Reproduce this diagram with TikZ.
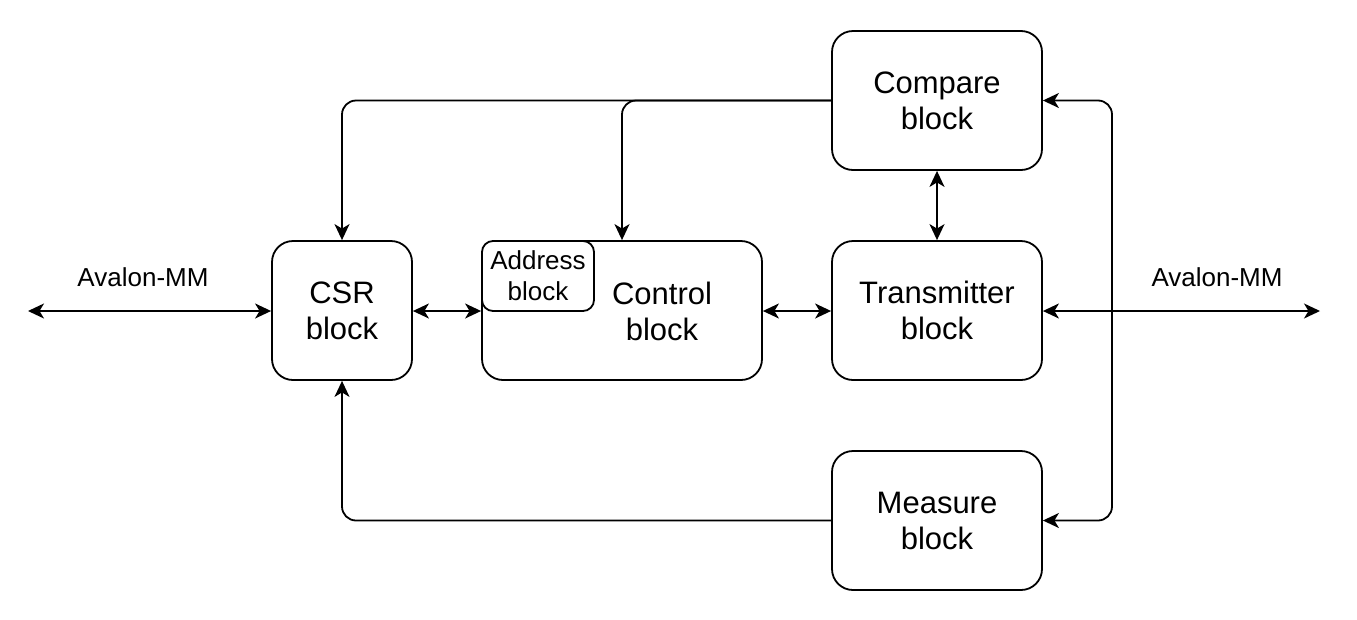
\documentclass[tikz,border=0pt]{standalone}
\usepackage{fontspec}
\setmainfont{Liberation Sans}
\usetikzlibrary{arrows.meta}
\begin{document}
\begin{tikzpicture}[x=1pt,y=-1pt,
  blk/.style={draw, line width=1.8pt, rounded corners=21pt, align=center, inner sep=0pt,
    font=\fontsize{31}{36}\selectfont},
  sub/.style={draw, fill=white, line width=1.8pt, rounded corners=11pt, align=center, inner sep=0pt,
    font=\fontsize{26}{31}\selectfont},
  lbl/.style={font=\fontsize{26}{31}\selectfont, inner sep=0pt},
  conn/.style={line width=1.8pt, rounded corners=14pt},
  tip/.style={-{Stealth[length=16pt,width=15pt,inset=4.5pt]}},
  dtip/.style={{Stealth[length=16pt,width=15pt,inset=4.5pt]}-{Stealth[length=16pt,width=15pt,inset=4.5pt]}}
]
\useasboundingbox (0,0) rectangle (1357,619);
\node[blk, minimum width=140pt, minimum height=139pt] (csr) at (342,310.5) {CSR\\block};
\node[blk, minimum width=280pt, minimum height=139pt] (ctrl) at (622,310.5) {};
\node[font=\fontsize{31}{36}\selectfont, align=center, inner sep=0pt] (ctrltxt) at (662,311) {Control\\block};
\node[sub, minimum width=112pt, minimum height=70pt] (addr) at (538,276) {Address\\block};
\node[blk, minimum width=210pt, minimum height=139pt] (trans) at (937,310.5) {Transmitter\\block};
\node[blk, minimum width=210pt, minimum height=139pt] (comp) at (937,100.5) {Compare\\block};
\node[blk, minimum width=210pt, minimum height=139pt] (meas) at (937,520.5) {Measure\\block};
\node[lbl] (avl) at (143,277) {Avalon-MM};
\node[lbl] (avr) at (1217,277) {Avalon-MM};
\coordinate (L) at (28,311);
\coordinate (R) at (1320,311);
\coordinate (bus) at (1112,311);
\draw[conn,dtip] (L) -- (csr.west |- L);
\draw[conn,dtip] (csr.east |- L) -- (ctrl.west |- L);
\draw[conn,dtip] (ctrl.east |- L) -- (trans.west |- L);
\draw[conn,dtip] (trans.east |- L) -- (R);
\draw[conn,tip] (comp.west) -| (csr.north);
\draw[conn,tip] (comp.west) -| (ctrl.north);
\draw[conn,dtip] (comp.south) -- (trans.north);
\draw[conn,tip] (bus) |- (comp.east);
\draw[conn,tip] (bus) |- (meas.east);
\draw[conn,tip] (meas.west) -| (csr.south);
\end{tikzpicture}
\end{document}
